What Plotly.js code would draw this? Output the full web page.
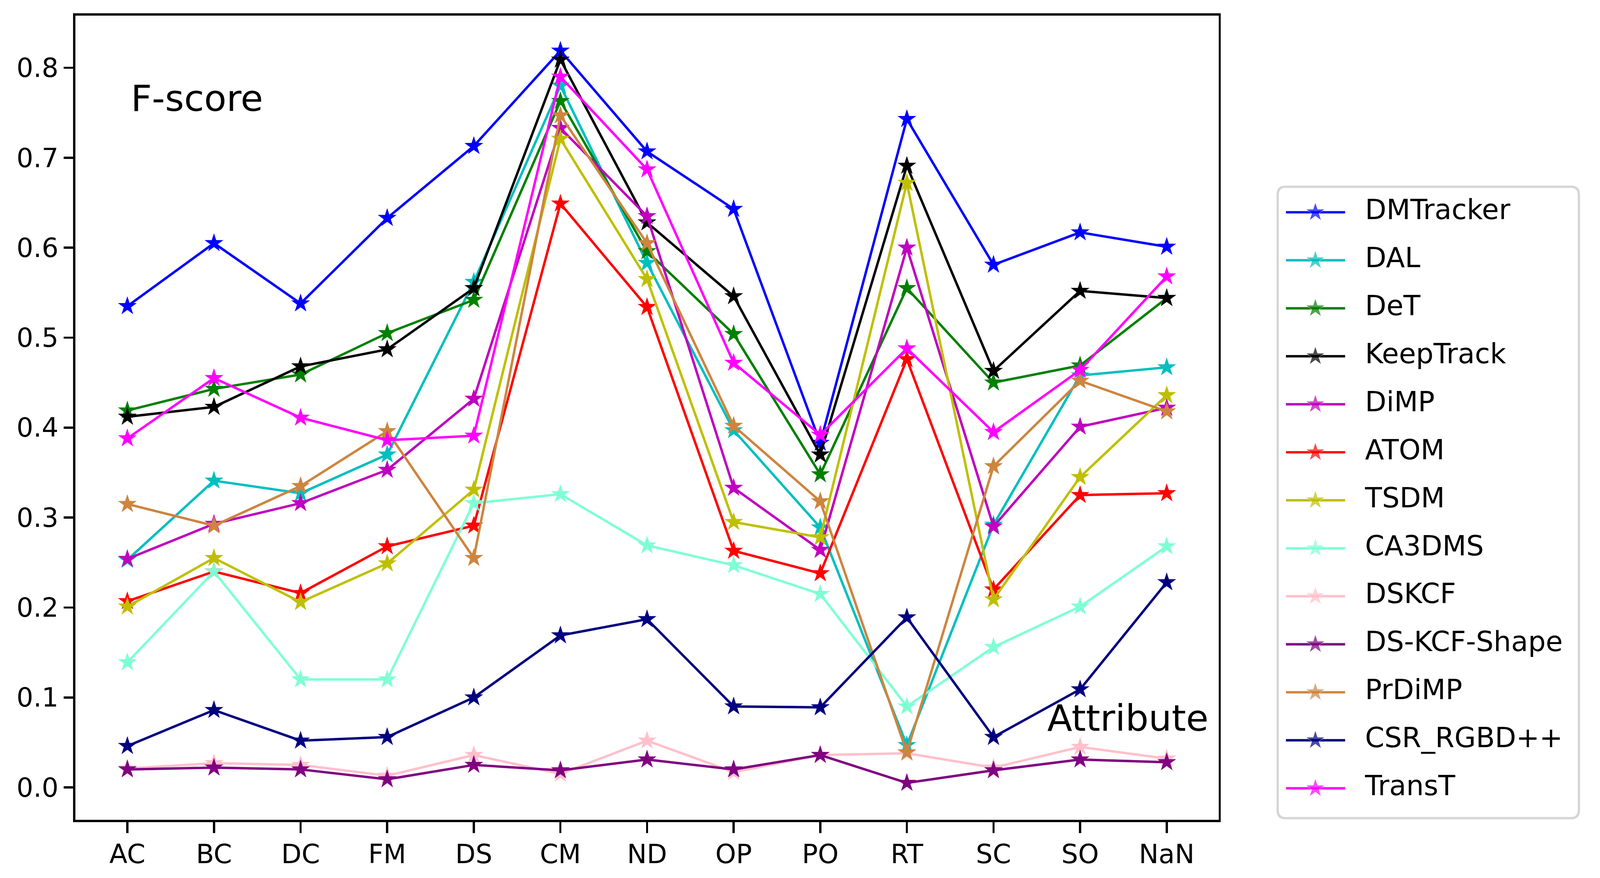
<!DOCTYPE html>
<html>
<head>
<meta charset="utf-8">
<script src="https://cdn.plot.ly/plotly-3.0.1.min.js"></script>
<style>
  html, body { margin: 0; padding: 0; background: #fff; overflow: hidden; }
  #chart { width: 100vw; height: 100vh; }
</style>
</head>
<body>
<div id="chart"></div>
<script>
// attribute categories on the x axis
const categories = ["AC", "BC", "DC", "FM", "DS", "CM", "ND", "OP", "PO", "RT", "SC", "SO", "NaN"];
const yTicks = [0.0, 0.1, 0.2, 0.3, 0.4, 0.5, 0.6, 0.7, 0.8];

// F-score per attribute
const dmtracker  = [0.535, 0.605, 0.538, 0.633, 0.713, 0.819, 0.707, 0.643, 0.383, 0.743, 0.581, 0.617, 0.601];
const dal        = [0.253, 0.341, 0.327, 0.370, 0.562, 0.780, 0.583, 0.397, 0.289, 0.047, 0.292, 0.458, 0.467];
const det        = [0.419, 0.443, 0.459, 0.505, 0.542, 0.763, 0.596, 0.504, 0.348, 0.555, 0.450, 0.469, 0.544];
const keeptrack  = [0.412, 0.423, 0.468, 0.487, 0.555, 0.809, 0.628, 0.546, 0.370, 0.691, 0.463, 0.552, 0.544];
const dimp       = [0.254, 0.293, 0.316, 0.353, 0.432, 0.733, 0.635, 0.333, 0.264, 0.600, 0.290, 0.401, 0.422];
const atom       = [0.207, 0.240, 0.216, 0.268, 0.291, 0.649, 0.534, 0.263, 0.238, 0.476, 0.220, 0.325, 0.327];
const tsdm       = [0.201, 0.255, 0.206, 0.249, 0.331, 0.721, 0.565, 0.295, 0.278, 0.672, 0.209, 0.345, 0.436];
const ca3dms     = [0.139, 0.240, 0.120, 0.120, 0.316, 0.326, 0.269, 0.247, 0.215, 0.090, 0.156, 0.201, 0.268];
const dskcf      = [0.021, 0.027, 0.025, 0.013, 0.036, 0.015, 0.052, 0.017, 0.036, 0.038, 0.022, 0.045, 0.032];
const dskcfShape = [0.020, 0.022, 0.020, 0.009, 0.025, 0.019, 0.031, 0.020, 0.036, 0.005, 0.019, 0.031, 0.028];
const prdimp     = [0.315, 0.291, 0.335, 0.396, 0.255, 0.747, 0.605, 0.402, 0.318, 0.039, 0.357, 0.452, 0.418];
const csrRgbd    = [0.046, 0.086, 0.052, 0.056, 0.100, 0.169, 0.187, 0.090, 0.089, 0.189, 0.056, 0.109, 0.228];
const transt     = [0.388, 0.455, 0.411, 0.386, 0.391, 0.790, 0.687, 0.472, 0.392, 0.488, 0.395, 0.464, 0.568];

const trackerNames = ["DMTracker", "DAL", "DeT", "KeepTrack", "DiMP", "ATOM", "TSDM",
  "CA3DMS", "DSKCF", "DS-KCF-Shape", "PrDiMP", "CSR_RGBD++", "TransT"];
const trackerValues = [dmtracker, dal, det, keeptrack, dimp, atom, tsdm,
  ca3dms, dskcf, dskcfShape, prdimp, csrRgbd, transt];
// matplotlib colour names: b c g k m r y aquamarine pink purple peru navy magenta
const trackerColors = ["#0000ff", "#00bfbf", "#008000", "#000000", "#bf00bf", "#ff0000", "#bfbf00",
  "#7fffd4", "#ffc0cb", "#800080", "#cd853f", "#000080", "#ff00ff"];

// reference geometry (px of the 4733 x 2248 original)
const REF_W = 4733, REF_H = 2248;
const box = { l: 223, r: 3605, t: 40, b: 2099 };
const leg = { l: 3776, r: 4674, t: 475, b: 2098 };
const FONT = "DejaVu Sans";

function render(containerId) {
  const el = document.getElementById(containerId);
  const W = el.clientWidth || REF_W;
  const H = el.clientHeight || REF_H;
  // the browser may cap the width, so stretch the reference layout onto the real canvas
  const sx = W / REF_W, sy = H / REF_H;
  const sm = Math.sqrt(sx * sy);
  const lineW = 6.7 * sm;
  const star = 39 * sm;
  const xIdx = categories.map((_, i) => i);

  const traces = trackerValues.map((vals, i) => ({
    x: xIdx,
    y: vals,
    type: "scatter",
    mode: "lines+markers",
    name: trackerNames[i],
    line: { color: trackerColors[i], width: lineW },
    marker: { symbol: "star", size: star, color: trackerColors[i] },
    showlegend: false,
    cliponaxis: false,
  }));

  // hand-built legend in its own axes (units = reference px inside the box),
  // Plotly's own legend caps the handle sizes far below matplotlib's
  const legW = leg.r - leg.l, legH = leg.b - leg.t;
  const rowY = (i) => 68.5 + i * 122.9;
  trackerNames.forEach((name, i) => {
    traces.push({
      x: [28, 115, 203],
      y: [rowY(i), rowY(i), rowY(i)],
      xaxis: "x2",
      yaxis: "y2",
      type: "scatter",
      mode: "lines+markers",
      line: { color: trackerColors[i], width: lineW },
      marker: { symbol: "star", size: [0, star, 0], color: trackerColors[i] },
      showlegend: false,
      hoverinfo: "skip",
      cliponaxis: false,
    });
  });
  traces.push({
    x: trackerNames.map(() => 262),
    y: trackerNames.map((_, i) => rowY(i)),
    text: trackerNames,
    xaxis: "x2",
    yaxis: "y2",
    type: "scatter",
    mode: "text",
    textposition: "middle right",
    textfont: { family: FONT, size: 82 * sx, color: "#000" },
    showlegend: false,
    hoverinfo: "skip",
    cliponaxis: false,
  });

  const inset = 3.3, rad = 22;
  const x0 = inset, x1 = legW - inset, y0 = inset, y1 = legH - inset;
  const roundRect =
    `M${x0 + rad},${y0} H${x1 - rad} Q${x1},${y0} ${x1},${y0 + rad} ` +
    `V${y1 - rad} Q${x1},${y1} ${x1 - rad},${y1} H${x0 + rad} ` +
    `Q${x0},${y1} ${x0},${y1 - rad} V${y0 + rad} Q${x0},${y0} ${x0 + rad},${y0} Z`;

  const axisStyle = {
    showgrid: false,
    zeroline: false,
    showline: true,
    mirror: true,
    linecolor: "#000",
    linewidth: 6 * sm,
    ticks: "outside",
    tickwidth: 6 * sm,
    tickcolor: "#000",
    tickfont: { family: FONT, size: 78 * sx, color: "#000" },
  };

  const fx = (px) => px / REF_W;
  const fy = (px) => 1 - px / REF_H;

  const layout = {
    width: W,
    height: H,
    margin: { l: 0, r: 0, t: 0, b: 0 },
    paper_bgcolor: "#fff",
    plot_bgcolor: "#fff",
    showlegend: false,
    font: { family: FONT, color: "#000" },
    xaxis: Object.assign({}, axisStyle, {
      domain: [fx(box.l), fx(box.r)],
      range: [-0.6, categories.length - 1 + 0.6],
      tickmode: "array",
      tickvals: xIdx,
      ticktext: categories,
      ticklen: 28 * sy,
      ticklabelstandoff: -4 * sy,
    }),
    yaxis: Object.assign({}, axisStyle, {
      domain: [fy(box.b), fy(box.t)],
      range: [-0.036, 0.858],
      tickmode: "array",
      tickvals: yTicks,
      ticktext: yTicks.map((v) => v.toFixed(1)),
      ticklen: 28 * sx,
      ticklabelstandoff: 16 * sx,
    }),
    xaxis2: {
      domain: [fx(leg.l), fx(leg.r)],
      range: [0, legW],
      visible: false,
      fixedrange: true,
    },
    yaxis2: {
      domain: [fy(leg.b), fy(leg.t)],
      range: [legH, 0],
      visible: false,
      fixedrange: true,
    },
    shapes: [
      {
        type: "path",
        xref: "x2",
        yref: "y2",
        path: roundRect,
        line: { color: "#d6d6d6", width: 6.6 * sm },
        fillcolor: "rgba(255,255,255,0.8)",
        layer: "below",
      },
    ],
    annotations: [
      {
        x: 0.03, y: 0.766, xref: "x", yref: "y",
        xanchor: "left", yanchor: "middle",
        text: "F-score", showarrow: false,
        font: { family: FONT, size: 108 * sx, color: "#000" },
      },
      {
        x: 10.61, y: 0.077, xref: "x", yref: "y",
        xanchor: "left", yanchor: "middle",
        text: "Attribute", showarrow: false,
        font: { family: FONT, size: 108 * sx, color: "#000" },
      },
    ],
  };

  Plotly.newPlot(el, traces, layout, { staticPlot: true, displayModeBar: false });
}

render("chart");
</script>
</body>
</html>
